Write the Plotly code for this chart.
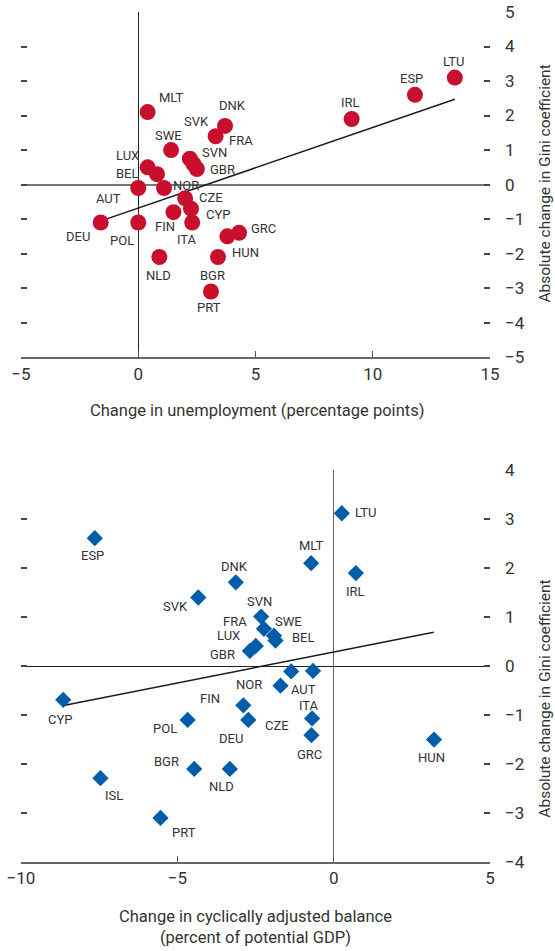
import plotly.graph_objects as go

# ---------------- Data: top panel (unemployment) ----------------
top_names = ["LTU", "ESP", "IRL", "MLT", "DNK", "SVK", "SWE", "SVN", "FRA", "GBR",
             "LUX", "BEL", "NOR", "AUT", "CZE", "CYP", "FIN", "ITA", "DEU", "POL",
             "GRC", "HUN", "NLD", "BGR", "PRT"]
top_x = [13.5, 11.8, 9.1, 0.4, 3.7, 3.3, 1.4, 2.2, 2.35, 2.5,
         0.4, 0.8, 1.1, 0.0, 2.0, 2.25, 1.5, 2.3, -1.6, 0.0,
         4.3, 3.8, 0.9, 3.4, 3.1]
top_y = [3.1, 2.6, 1.9, 2.1, 1.7, 1.4, 1.0, 0.75, 0.6, 0.45,
         0.5, 0.3, -0.1, -0.1, -0.4, -0.7, -0.8, -1.1, -1.1, -1.1,
         -1.4, -1.5, -2.1, -2.1, -3.1]
top_trend_x = [-1.62, 13.5]
top_trend_y = [-1.06, 2.47]

# ---------------- Data: bottom panel (fiscal balance) ----------------
bot_names = ["LTU", "MLT", "IRL", "ESP", "DNK", "SVK", "SVN", "FRA", "SWE", "BEL",
             "LUX", "GBR", "NOR", "AUT", "CZE", "FIN", "DEU", "ITA", "GRC", "HUN",
             "CYP", "POL", "BGR", "NLD", "ISL", "PRT"]
bot_x = [0.26, -0.72, 0.71, -7.64, -3.13, -4.33, -2.32, -2.23, -1.91, -1.86,
         -2.49, -2.68, -1.36, -0.66, -1.70, -2.89, -2.73, -0.69, -0.71, 3.21,
         -8.65, -4.67, -4.46, -3.32, -7.46, -5.54]
bot_y = [3.12, 2.10, 1.90, 2.61, 1.71, 1.40, 1.01, 0.76, 0.62, 0.52,
         0.41, 0.31, -0.11, -0.10, -0.40, -0.80, -1.10, -1.07, -1.41, -1.50,
         -0.69, -1.10, -2.10, -2.10, -2.29, -3.10]
bot_trend_x = [-8.6, 3.2]
bot_trend_y = [-0.80, 0.69]

# label offsets in pixels (dx right, dy down)
top_off = [(-1, -16), (-3, -16), (-1, -16), (24, -15), (7, -20), (-19, -15), (-3, -15),
           (25, -6), (48, -23), (26, 0), (-20, -12), (-30, -1), (22, -3), (-30, 10),
           (26, -1), (27, 6), (-8, 14), (-5, 17), (-23, 14), (-16, 18), (24, -4),
           (18, 16), (-1, 18), (-5, 18), (-2, 16)]
bot_off = [(24, -1), (0, -18), (0, 18), (-2, 17), (-1, -16), (-23, 9), (-2, -15),
           (-29, -7), (15, -14), (28, -3), (-27, -10), (-27, 4), (-42, 13), (-10, 19),
           (-4, 40), (-33, -7), (-17, 19), (-3, -13), (-2, 19), (-3, 18), (-3, 20),
           (-23, 9), (-28, -7), (-8, 18), (14, 17), (24, 15)]

RED = "#C8102E"
BLUE = "#005DAA"
FONT = "Roboto, Liberation Sans, sans-serif"
TXT = "#333333"

fig = go.Figure()
fig.add_trace(go.Scatter(x=top_trend_x, y=top_trend_y, mode="lines",
                         line=dict(color="#1a1a1a", width=1.5), xaxis="x", yaxis="y",
                         showlegend=False, hoverinfo="skip"))
fig.add_trace(go.Scatter(x=top_x, y=top_y, mode="markers", text=top_names,
                         marker=dict(symbol="circle", size=16, color=RED),
                         xaxis="x", yaxis="y", showlegend=False))
fig.add_trace(go.Scatter(x=bot_trend_x, y=bot_trend_y, mode="lines",
                         line=dict(color="#1a1a1a", width=1.5), xaxis="x2", yaxis="y2",
                         showlegend=False, hoverinfo="skip"))
fig.add_trace(go.Scatter(x=bot_x, y=bot_y, mode="markers", text=bot_names,
                         marker=dict(symbol="diamond", size=12.5, color=BLUE),
                         xaxis="x2", yaxis="y2", showlegend=False))

ann = []
for n, x, y, (dx, dy) in zip(top_names, top_x, top_y, top_off):
    ann.append(dict(x=x, y=y, xref="x", yref="y", text=n, showarrow=False,
                    xshift=dx, yshift=-dy, font=dict(family=FONT, size=13, color=TXT)))
for n, x, y, (dx, dy) in zip(bot_names, bot_x, bot_y, bot_off):
    ann.append(dict(x=x, y=y, xref="x2", yref="y2", text=n, showarrow=False,
                    xshift=dx, yshift=-dy, font=dict(family=FONT, size=13, color=TXT)))

# axis titles
ann.append(dict(x=0.503, y=0.5306, xref="paper", yref="paper", showarrow=False,
                xanchor="center", yanchor="middle",
                text="Change in unemployment (percentage points)",
                font=dict(family=FONT, size=16.5, color=TXT)))
ann.append(dict(x=0.499, y=-0.076, xref="paper", yref="paper", showarrow=False,
                xanchor="center", yanchor="middle",
                text="Change in cyclically adjusted balance<br>(percent of potential GDP)",
                font=dict(family=FONT, size=16.5, color=TXT)))
ann.append(dict(x=1.117, y=0.798, xref="paper", yref="paper", showarrow=False, textangle=-90,
                xanchor="center", yanchor="middle",
                text="Absolute change in Gini coefficient",
                font=dict(family=FONT, size=15.5, color=TXT)))
ann.append(dict(x=1.117, y=0.192, xref="paper", yref="paper", showarrow=False, textangle=-90,
                xanchor="center", yanchor="middle",
                text="Absolute change in Gini coefficient",
                font=dict(family=FONT, size=15.5, color=TXT)))

tickfont = dict(family=FONT, size=17, color=TXT)
xcommon = dict(showgrid=False, ticks="inside", ticklen=6, tickcolor="#555555",
               showline=True, linecolor="#666666", linewidth=2, tickfont=tickfont,
               automargin=False, ticklabeloverflow="allow")
ycommon = dict(showgrid=False, ticks="inside", ticklen=6, tickcolor="#444444", tickwidth=1.5,
               mirror="ticks", showline=False, side="right", tickfont=tickfont,
               ticklabelstandoff=14, automargin=False, ticklabeloverflow="allow")

fig.update_layout(
    width=555, height=951,
    margin=dict(l=21, r=65, t=12, b=89),
    paper_bgcolor="white", plot_bgcolor="white",
    xaxis=dict(domain=[0, 1], anchor="y", range=[-5, 15], tickvals=[-5, 0, 5, 10, 15],
               zeroline=True, zerolinecolor="#222222", zerolinewidth=1, **xcommon),
    yaxis=dict(domain=[0.594, 1.0], anchor="x", range=[-5, 5], tickvals=list(range(-5, 6)),
               zeroline=True, zerolinecolor="#777777", zerolinewidth=2, **ycommon),
    xaxis2=dict(domain=[0, 1], anchor="y2", range=[-10, 5], tickvals=[-10, -5, 0, 5],
                zeroline=True, zerolinecolor="#666666", zerolinewidth=1, **xcommon),
    yaxis2=dict(domain=[0, 0.461], anchor="x2", range=[-4, 4], tickvals=list(range(-4, 5)),
                zeroline=True, zerolinecolor="#222222", zerolinewidth=1, **ycommon),
    annotations=ann,
)

fig.write_html("out.html", config={"displayModeBar": False},
               post_script="document.body.style.margin='0';document.body.style.overflow='hidden';")
